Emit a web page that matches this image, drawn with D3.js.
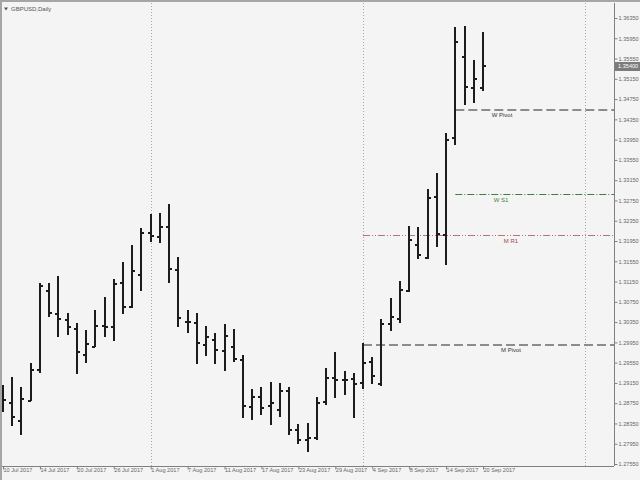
<!DOCTYPE html>
<html><head><meta charset="utf-8">
<script src="https://cdn.jsdelivr.net/npm/d3@7"></script>
<style>
body{margin:0;background:#f4f4f4}
svg{display:block}
text{font-family:"Liberation Sans",Arial,sans-serif}
</style>
</head><body><svg id="c" width="640" height="480"></svg>
<script>
const symbolTitle = "GBPUSD,Daily";
const dates = ["10 Jul 2017","11 Jul 2017","12 Jul 2017","13 Jul 2017","14 Jul 2017","17 Jul 2017","18 Jul 2017","19 Jul 2017","20 Jul 2017","21 Jul 2017","24 Jul 2017","25 Jul 2017","26 Jul 2017","27 Jul 2017","28 Jul 2017","31 Jul 2017",
"1 Aug 2017","2 Aug 2017","3 Aug 2017","4 Aug 2017","7 Aug 2017","8 Aug 2017","9 Aug 2017","10 Aug 2017","11 Aug 2017","14 Aug 2017","15 Aug 2017","16 Aug 2017","17 Aug 2017","18 Aug 2017","21 Aug 2017","22 Aug 2017","23 Aug 2017","24 Aug 2017","25 Aug 2017","28 Aug 2017","29 Aug 2017","30 Aug 2017","31 Aug 2017",
"1 Sep 2017","4 Sep 2017","5 Sep 2017","6 Sep 2017","7 Sep 2017","8 Sep 2017","11 Sep 2017","12 Sep 2017","13 Sep 2017","14 Sep 2017","15 Sep 2017","18 Sep 2017","19 Sep 2017","20 Sep 2017"];
const open  = [1.28852,1.28760,1.28404,1.28799,1.29405,1.30969,1.30510,1.30391,1.30208,1.29707,1.29864,1.30273,1.30259,1.31127,1.30642,1.31273,
1.32108,1.32029,1.32220,1.31378,1.30358,1.30326,1.29892,1.29997,1.29774,1.29864,1.29602,1.28681,1.28878,1.28694,1.28616,1.28984,1.28221,1.28024,1.28063,1.28773,1.29247,1.29207,1.29227,
1.29142,1.29563,1.29128,1.30312,1.30417,1.30969,1.31865,1.31615,1.32812,1.32074,1.33982,1.35586,1.34963,1.34969];
const high  = [1.29109,1.29273,1.29069,1.29549,1.31127,1.31127,1.31259,1.30529,1.30332,1.30194,1.30589,1.30839,1.31194,1.31536,1.31871,1.32206,
1.32483,1.32508,1.32680,1.31628,1.30589,1.30523,1.30273,1.30141,1.30312,1.30208,1.29695,1.29024,1.29075,1.29168,1.29154,1.29075,1.28339,1.28359,1.28872,1.29444,1.29760,1.29385,1.29346,
1.29943,1.29655,1.30417,1.30825,1.31155,1.32246,1.32220,1.32982,1.33286,1.34081,1.36167,1.36192,1.35521,1.36074];
const low   = [1.28576,1.28300,1.28122,1.28793,1.29340,1.30456,1.30056,1.30095,1.29326,1.29543,1.29853,1.30062,1.29983,1.30510,1.30628,1.30969,
1.31930,1.31905,1.31127,1.30247,1.30129,1.29523,1.29681,1.29523,1.29391,1.29563,1.28458,1.28418,1.28511,1.28314,1.28483,1.28116,1.27945,1.27787,1.28024,1.28714,1.28852,1.28911,1.28458,
1.29036,1.29128,1.29089,1.30180,1.30326,1.30944,1.31601,1.31601,1.31838,1.31482,1.33844,1.34633,1.34679,1.34904];
const close = [1.28813,1.28483,1.28833,1.29405,1.31062,1.30523,1.30405,1.30247,1.29760,1.29918,1.30273,1.30259,1.31102,1.30642,1.31352,1.32108,
1.32049,1.32220,1.31392,1.30431,1.30346,1.29932,1.30050,1.29799,1.30076,1.29616,1.28700,1.28878,1.28649,1.28748,1.28996,1.28221,1.28024,1.28063,1.28754,1.29247,1.29207,1.29207,1.29128,
1.29549,1.29286,1.30312,1.30456,1.30983,1.31970,1.31668,1.32793,1.32088,1.33943,1.35883,1.34995,1.35141,1.35400];
const xTickLabels = ["10 Jul 2017","14 Jul 2017","20 Jul 2017","26 Jul 2017","1 Aug 2017","7 Aug 2017","11 Aug 2017","17 Aug 2017","23 Aug 2017","29 Aug 2017","4 Sep 2017","8 Sep 2017","14 Sep 2017","20 Sep 2017"];
const yTickValues = [1.27550,1.27950,1.28350,1.28750,1.29150,1.29550,1.29950,1.30350,1.30750,1.31150,1.31550,1.31950,1.32350,1.32750,1.33150,1.33550,1.33950,1.34350,1.34750,1.35150,1.35550,1.35950,1.36350];
const separatorBars = [16, 39, 63];
const pivotNames  = ["W Pivot","W S1","M R1","M Pivot"];
const pivotValues = [1.34535,1.32878,1.32069,1.29898];
const pivotStart  = ["15 Sep 2017","15 Sep 2017","1 Sep 2017","1 Sep 2017"];
const currentPrice = 1.35400;

// ---- layout & style ----
const W = 640, H = 480;
const plot = {left: 2, right: 614, top: 3, bottom: 466};
const pivotStyle = {
  "W Pivot": {stroke: "#8c8c8c", width: 2, dash: "9,4", text: "#333333", labelX: 502},
  "W S1":    {stroke: "#3f7f3f", width: 1, dash: "7,2,1,2", text: "#3f7f3f", labelX: 501},
  "M R1":    {stroke: "#b87474", width: 1, dash: "7,2,1,2,1,2", text: "#a04848", labelX: 511},
  "M Pivot": {stroke: "#8c8c8c", width: 2, dash: "9,4", text: "#333333", labelX: 511}
};

const svg = d3.select("#c");
svg.append("rect").attr("width", W).attr("height", H).attr("fill", "#f4f4f4");

const x = d3.scaleLinear().domain([0, dates.length - 1]).range([3, 483]);
const y = d3.scaleLinear().domain([1.2755, 1.3635]).range([464, 18]);
const xd = d => x(dates.indexOf(d));

// separators
svg.append("g").selectAll("line").data(separatorBars).join("line")
  .attr("x1", d => Math.round(x(d)) + 0.5).attr("x2", d => Math.round(x(d)) + 0.5)
  .attr("y1", plot.top).attr("y2", plot.bottom)
  .attr("stroke", "#a8a8a8").attr("stroke-width", 1).attr("stroke-dasharray", "1,2");

// pivot lines
const pv = svg.append("g");
pivotNames.forEach((n, i) => {
  const s = pivotStyle[n];
  const yy = Math.round(y(pivotValues[i])) + (s.width === 1 ? 0.5 : 0);
  pv.append("line")
    .attr("x1", xd(pivotStart[i])).attr("x2", plot.right)
    .attr("y1", yy).attr("y2", yy)
    .attr("stroke", s.stroke).attr("stroke-width", s.width).attr("stroke-dasharray", s.dash);
  pv.append("text").attr("x", s.labelX).attr("y", yy + 7)
    .attr("text-anchor", "middle").attr("font-size", 6).attr("fill", s.text).text(n);
});

// OHLC bars
const bars = svg.append("g").attr("stroke", "#1c1c1c").attr("shape-rendering", "crispEdges");
dates.forEach((d, i) => {
  const cx = Math.round(x(i));
  const g = bars.append("g");
  g.append("line").attr("x1", cx).attr("x2", cx)
    .attr("y1", Math.round(y(high[i]))).attr("y2", Math.round(y(low[i])))
    .attr("stroke-width", 2);
  g.append("line").attr("x1", cx - 3).attr("x2", cx)
    .attr("y1", Math.round(y(open[i]))).attr("y2", Math.round(y(open[i])))
    .attr("stroke-width", 2);
  g.append("line").attr("x1", cx).attr("x2", cx + 3)
    .attr("y1", Math.round(y(close[i]))).attr("y2", Math.round(y(close[i])))
    .attr("stroke-width", 2);
});

// frame
svg.append("rect").attr("x", 0).attr("y", 0).attr("width", W).attr("height", 2).attr("fill", "#a6a6a6");
svg.append("rect").attr("x", 0).attr("y", 0).attr("width", 2).attr("height", H).attr("fill", "#a6a6a6");

// price axis
const ya = svg.append("g").attr("transform", `translate(${plot.right + 0.5},0)`)
  .call(d3.axisRight(y).tickValues(yTickValues).tickFormat(d3.format(".5f")).tickSize(3).tickSizeOuter(0));
ya.select(".domain").attr("d", `M0,${plot.top}V${plot.bottom}`).attr("stroke", "#808080");
ya.selectAll(".tick line").attr("stroke", "#808080");
ya.selectAll(".tick text").attr("x", 4).attr("font-size", 5.6).attr("fill", "#666").attr("font-family", '"Liberation Sans",Arial,sans-serif');

// date axis
const xa = svg.append("g").attr("transform", `translate(0,${plot.bottom + 0.5})`)
  .call(d3.axisBottom(x).tickValues(xTickLabels.map(t => dates.indexOf(t))).tickFormat(i => dates[i]).tickSize(3).tickSizeOuter(0));
xa.select(".domain").attr("d", `M${plot.left},0H${plot.right}`).attr("stroke", "#808080");
xa.selectAll(".tick line").attr("stroke", "#808080");
xa.selectAll(".tick text").attr("text-anchor", "start").attr("x", 0).attr("y", 2).attr("dy", "0.71em")
  .attr("font-size", 5.6).attr("fill", "#666").attr("font-family", '"Liberation Sans",Arial,sans-serif');

// current price marker
const cy = y(currentPrice);
svg.append("rect").attr("x", plot.right + 1).attr("y", Math.round(cy) - 4).attr("width", W - plot.right - 1).attr("height", 9).attr("fill", "#7c7c7c");
svg.append("text").attr("x", plot.right + 4).attr("y", Math.round(cy) + 2.2).attr("font-size", 5.6).attr("fill", "#fff").text(d3.format(".5f")(currentPrice));

// title
svg.append("path").attr("d", "M4,7.5h4l-2,3z").attr("fill", "#555");
svg.append("text").attr("x", 11).attr("y", 10.5).attr("font-size", 6).attr("fill", "#555").text(symbolTitle);
</script>
</body></html>
